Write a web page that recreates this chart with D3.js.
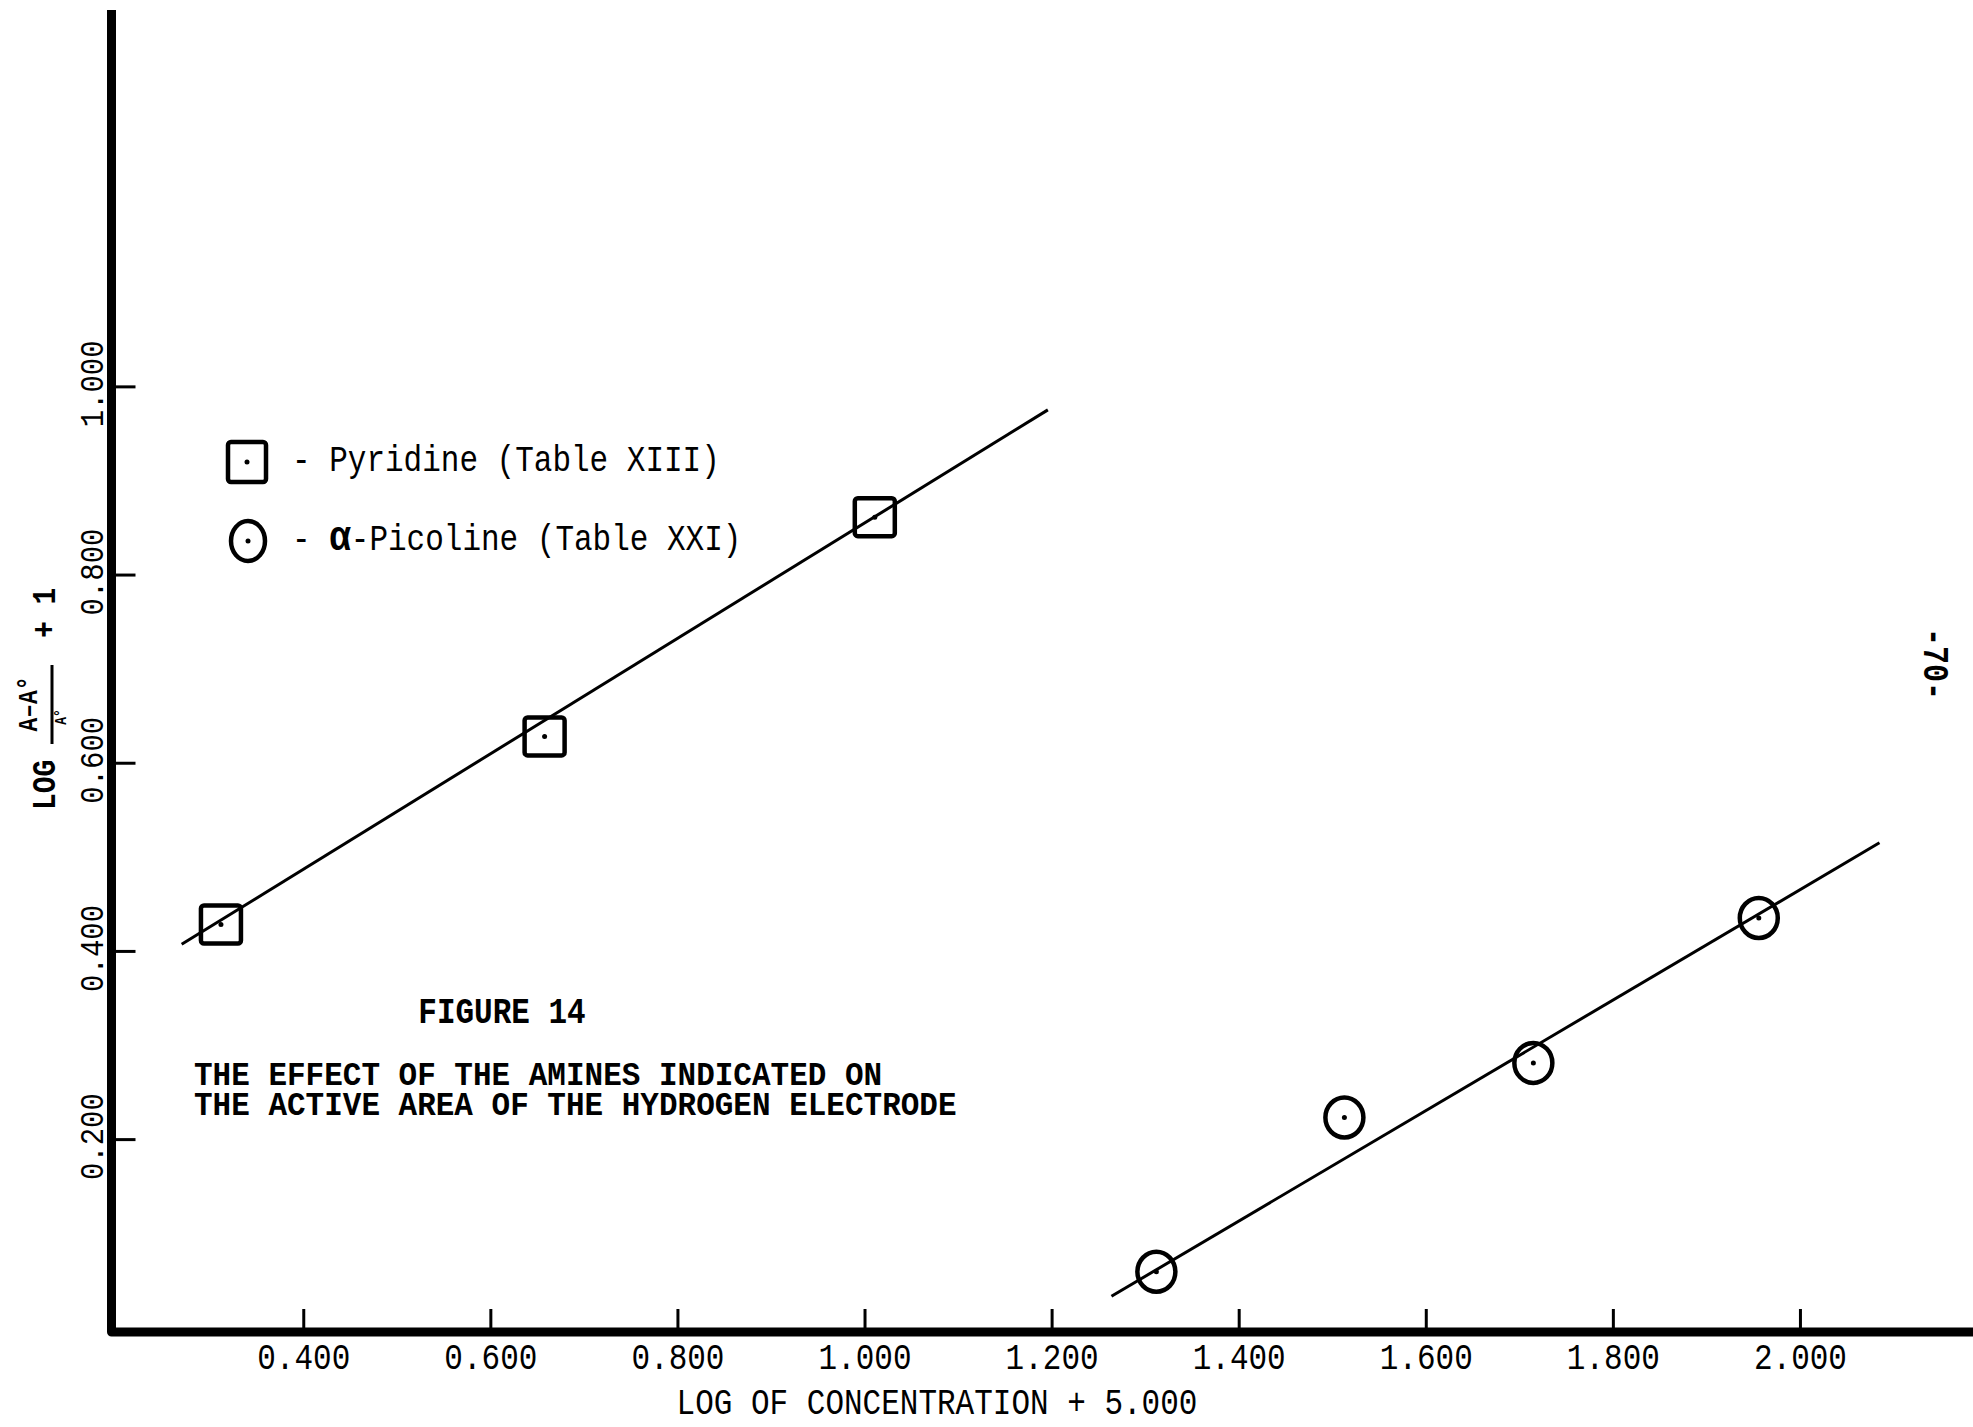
<!DOCTYPE html>
<html>
<head>
<meta charset="utf-8">
<script src="https://cdn.jsdelivr.net/npm/d3@7"></script>
<style>
  body { margin: 0; background: #fff; }
  svg { display: block; }
</style>
</head>
<body>
<svg id="svg"></svg>
<script>
var width = 1973,
    height = 1427;

// values
var xTicks = [0.4, 0.6, 0.8, 1.0, 1.2, 1.4, 1.6, 1.8, 2.0];
var yTicks = [0.2, 0.4, 0.6, 0.8, 1.0];

var pyridineX = [0.312, 0.658, 1.011];
var pyridineY = [0.428, 0.628, 0.861];
var pyridineLine = [[0.270, 0.407], [1.196, 0.975]];

var picolineX = [1.312, 1.513, 1.715, 1.956];
var picolineY = [0.059, 0.223, 0.281, 0.435];
var picolineLine = [[1.264, 0.033], [2.085, 0.515]];

var FONT = "'Liberation Mono', 'Courier New', monospace";

var svg = d3.select("#svg")
    .attr("width", width)
    .attr("height", height);

svg.append("rect").attr("width", width).attr("height", height).attr("fill", "#fff");

var x = d3.scaleLinear().domain([0.195, 2.185]).range([111.5, 1973]);
var y = d3.scaleLinear().domain([-0.005, 1.4]).range([1332, 10]);

// typed text helper: x, y = anchor/baseline point
function typed(parent, px, py, str, size, opts) {
  opts = opts || {};
  var g = parent.append("g")
      .attr("transform", "translate(" + px + "," + py + ") rotate(" + (opts.rotate || 0) + ") scale(1," + (opts.stretch || 1.2) + ")");
  return g.append("text")
      .attr("font-family", FONT)
      .attr("font-size", size)
      .attr("font-weight", opts.bold ? "bold" : "normal")
      .attr("text-anchor", opts.anchor || "start")
      .attr("fill", "#000")
      .text(str);
}

// axes ticks
var xAxis = svg.append("g")
    .attr("transform", "translate(0," + y.range()[0] + ")")
    .call(d3.axisBottom(x).tickValues(xTicks).tickFormat(d3.format(".3f"))
      .tickSizeInner(-23).tickSizeOuter(0).tickPadding(0));

var yAxis = svg.append("g")
    .attr("transform", "translate(" + x.range()[0] + ",0)")
    .call(d3.axisLeft(y).tickValues(yTicks).tickFormat(d3.format(".3f"))
      .tickSizeInner(-24).tickSizeOuter(0).tickPadding(0));

svg.selectAll(".domain").remove();
svg.selectAll(".tick line").attr("stroke", "#000").attr("stroke-width", 3);

xAxis.selectAll(".tick text")
    .attr("y", 0).attr("dy", 0)
    .attr("transform", "translate(0,37) scale(1,1.2)")
    .attr("font-family", FONT).attr("font-size", 31).attr("fill", "#000");

yAxis.selectAll(".tick text")
    .attr("x", 0).attr("dy", 0)
    .attr("text-anchor", "middle")
    .attr("transform", "translate(-9,-3) rotate(-90) scale(1,1.15)")
    .attr("font-family", FONT).attr("font-size", 29).attr("fill", "#000");

// axis frame
svg.append("path")
    .attr("d", "M" + x.range()[0] + "," + y.range()[1] +
               "L" + x.range()[0] + "," + y.range()[0] +
               "L" + x.range()[1] + "," + y.range()[0])
    .attr("fill", "none")
    .attr("stroke", "#000")
    .attr("stroke-width", 9)
    .attr("stroke-linejoin", "round");

// fitted lines
var line = d3.line().x(function(d) { return x(d[0]); }).y(function(d) { return y(d[1]); });

[pyridineLine, picolineLine].forEach(function(l) {
  svg.append("path")
      .attr("d", line(l))
      .attr("fill", "none")
      .attr("stroke", "#000")
      .attr("stroke-width", 3);
});

// markers
function square(parent, cx, cy, w, h) {
  parent.append("rect")
      .attr("x", cx - w / 2).attr("y", cy - h / 2)
      .attr("width", w).attr("height", h)
      .attr("rx", 3)
      .attr("fill", "none").attr("stroke", "#000").attr("stroke-width", 4.5);
  parent.append("circle").attr("cx", cx).attr("cy", cy).attr("r", 2.5).attr("fill", "#000");
}

function ring(parent, cx, cy, rx, ry) {
  parent.append("ellipse")
      .attr("cx", cx).attr("cy", cy).attr("rx", rx).attr("ry", ry)
      .attr("fill", "none").attr("stroke", "#000").attr("stroke-width", 4.5);
  parent.append("circle").attr("cx", cx).attr("cy", cy).attr("r", 2.5).attr("fill", "#000");
}

var marks = svg.append("g");
pyridineX.forEach(function(d, i) { square(marks, x(d), y(pyridineY[i]), 40, 38); });
picolineX.forEach(function(d, i) { ring(marks, x(d), y(picolineY[i]), 19, 20); });

// legend
square(svg, 247, 462, 38, 40);
ring(svg, 248, 541, 17, 20);
typed(svg, 292, 471, "- Pyridine (Table XIII)", 31);
var pic = typed(svg, 292, 550, "- ", 31);
pic.append("tspan").attr("font-weight", "bold").attr("font-size", 36).text("\u03b1");
pic.append("tspan").text("-Picoline (Table XXI)");

// figure caption
typed(svg, 502, 1023, "FIGURE 14", 31, { bold: true, anchor: "middle" });
typed(svg, 194, 1085, "THE EFFECT OF THE AMINES INDICATED ON", 31, { bold: true, stretch: 1.1 });
typed(svg, 194, 1115, "THE ACTIVE AREA OF THE HYDROGEN ELECTRODE", 31, { bold: true, stretch: 1.1 });

// x axis title
typed(svg, 937, 1414, "LOG OF CONCENTRATION + 5.000", 31, { anchor: "middle" });

// y axis title (typed sideways, with fraction)
var yt = svg.append("g").attr("transform", "translate(55,810) rotate(-90)");
typed(yt, 0, 0, "LOG", 28, { bold: true });
typed(yt, 106, -18, "A\u2013A\u00b0", 23, { bold: true, anchor: "middle" });
yt.append("line").attr("x1", 66).attr("x2", 145).attr("y1", -3).attr("y2", -3)
    .attr("stroke", "#000").attr("stroke-width", 3);
typed(yt, 93, 11, "A\u00b0", 13, { bold: true, anchor: "middle" });
typed(yt, 172, 0, "+ 1", 28, { bold: true });

// page number
typed(svg, 1924, 664, "-70-", 30, { bold: true, anchor: "middle", rotate: 90 });
</script>
</body>
</html>
